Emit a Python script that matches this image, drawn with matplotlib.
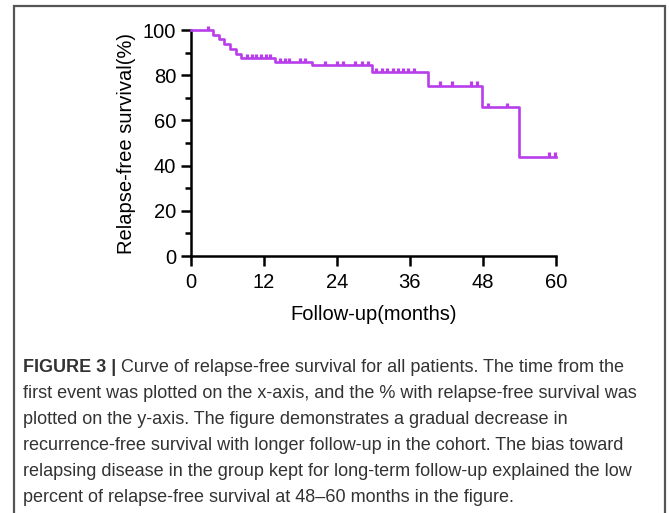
import numpy as np
import matplotlib.pyplot as plt
from matplotlib.patches import Rectangle

# Kaplan-Meier steps
event_months = [0, 3.7, 4.6, 5.5, 6.5, 7.4, 8.3, 13.8, 20.0, 29.7, 38.9, 47.9, 53.9]
survival = [100, 97.9, 95.8, 93.8, 91.7, 89.6, 87.5, 85.9, 84.3, 81.2, 75.4, 66.0, 44.0]
end_month = 60
censored_months = [2.9, 9.3, 10.1, 10.8, 11.5, 12.3, 13.0, 14.7, 15.5, 16.2, 17.9, 18.8,
                   22.1, 24.0, 25.0, 27.0, 28.1, 29.1, 30.5, 31.5, 32.3, 33.2, 34.0, 34.9,
                   35.7, 36.6, 41.0, 43.0, 46.0, 47.0, 48.9, 52.0, 58.9, 59.8]
x_ticks = [0, 12, 24, 36, 48, 60]
y_ticks = [0, 20, 40, 60, 80, 100]

caption_lines = [
    "Curve of relapse-free survival for all patients. The time from the",
    "first event was plotted on the x-axis, and the % with relapse-free survival was",
    "plotted on the y-axis. The figure demonstrates a gradual decrease in",
    "recurrence-free survival with longer follow-up in the cohort. The bias toward",
    "relapsing disease in the group kept for long-term follow-up explained the low",
    "percent of relapse-free survival at 48\u201360 months in the figure.",
]

plt.rcParams['font.family'] = ['Liberation Sans', 'DejaVu Sans']
col = '#B83DEB'
cap_size = 13.0

W, H = 669, 513
fig = plt.figure(figsize=(W / 100, H / 100), dpi=100)

x0, x1, ytop, ybot = 190.7, 556, 30, 256
ax = fig.add_axes([x0 / W, 1 - ybot / H, (x1 - x0) / W, (ybot - ytop) / H])

t = np.append(event_months, end_month)
s = np.append(survival, survival[-1])
ax.step(t, s, where='post', color=col, lw=1.9, clip_on=False, zorder=3)

idx = np.searchsorted(event_months, censored_months, side='right') - 1
cv = np.array(survival)[idx]
ax.vlines(censored_months, cv, cv + 1.9, color=col, lw=2.3, clip_on=False, zorder=3)

ax.set_xlim(0, 60)
ax.set_ylim(0, 100)
ax.set_xticks(x_ticks)
ax.set_yticks(y_ticks)
ax.set_yticks(np.arange(10, 100, 20), minor=True)
for side in ['top', 'right']:
    ax.spines[side].set_visible(False)
for side in ['left', 'bottom']:
    ax.spines[side].set_linewidth(1.8)
ax.tick_params(axis='both', which='major', length=7.5, width=1.8, labelsize=14.5, pad=3)
ax.tick_params(axis='x', which='major', pad=5)
ax.tick_params(axis='y', which='minor', length=4.5, width=1.8)
ax.set_ylabel('Relapse-free survival(%)', fontsize=14.5, labelpad=5)
ax.set_xlabel('Follow-up(months)', fontsize=14.5, labelpad=9)

# outer frame
fig.patches.append(Rectangle((14 / W, -0.05), (665 - 14) / W, 1.05 - 6 / H,
                             transform=fig.transFigure, fill=False,
                             edgecolor='#555555', lw=1.6))

# caption
tc = '#333333'
y0 = 367
for i, line in enumerate(caption_lines):
    yy = 1 - (y0 + i * 26) / H
    if i == 0:
        tb = fig.text(23 / W, yy, "FIGURE 3 | ", fontsize=cap_size, fontweight='bold',
                      color=tc, va='center')
        fig.canvas.draw()
        bb = tb.get_window_extent()
        fig.text(bb.x1 / W, yy, line, fontsize=cap_size, color=tc, va='center')
    else:
        fig.text(23 / W, yy, line, fontsize=cap_size, color=tc, va='center')

fig.savefig('out.png', dpi=100)
